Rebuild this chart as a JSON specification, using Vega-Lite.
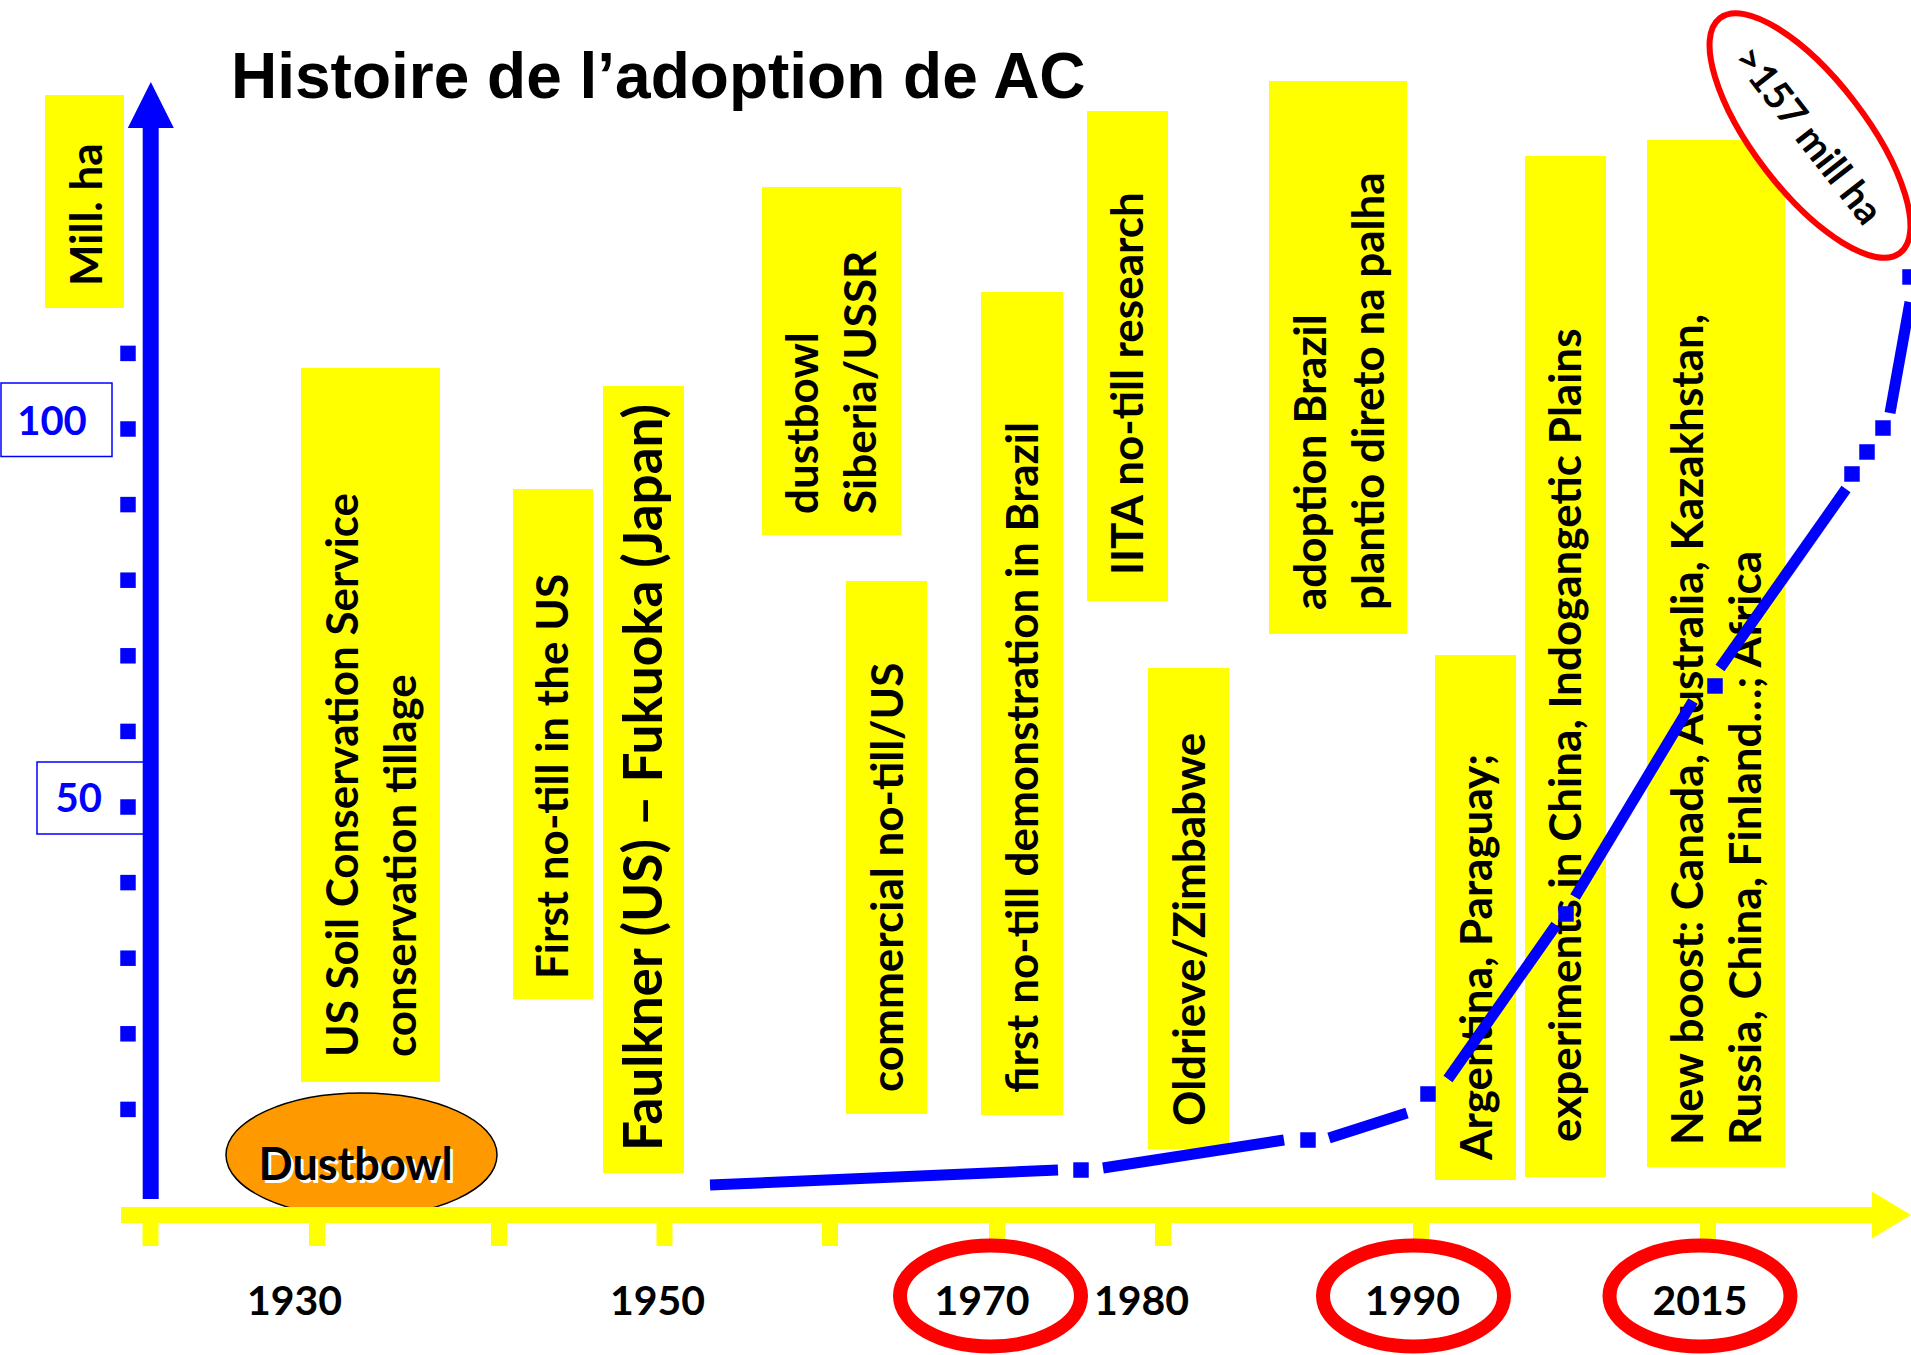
{
  "$schema": "https://vega.github.io/schema/vega-lite/v6.json",
  "width": 1911,
  "height": 1355,
  "padding": 0,
  "autosize": {"type": "none"},
  "background": "white",
  "config": {"view": {"stroke": null}, "axis": {"disable": true}},
  "encoding": {
    "x": {"field": "x", "type": "quantitative", "scale": {"domain": [0, 1911], "nice": false, "zero": false}, "axis": null},
    "y": {"field": "y", "type": "quantitative", "scale": {"domain": [-22.487, 156.746], "nice": false, "zero": false}, "axis": null}
  },
  "datasets": {
    "boxes": [
      {"x": 301, "x2": 440, "y": 108.07, "y2": 13.62},
      {"x": 513, "x2": 593, "y": 92.06, "y2": 24.60},
      {"x": 603, "x2": 684, "y": 105.69, "y2": 1.59},
      {"x": 762, "x2": 901, "y": 132.01, "y2": 85.98},
      {"x": 846, "x2": 927, "y": 79.89, "y2": 9.39},
      {"x": 981, "x2": 1063, "y": 118.12, "y2": 9.26},
      {"x": 1087, "x2": 1168, "y": 142.06, "y2": 77.25},
      {"x": 1148, "x2": 1229, "y": 68.39, "y2": 4.76},
      {"x": 1269, "x2": 1407, "y": 146.03, "y2": 72.88},
      {"x": 1435, "x2": 1516, "y": 70.11, "y2": 0.66},
      {"x": 1525, "x2": 1606, "y": 136.11, "y2": 1.06},
      {"x": 1647, "x2": 1785, "y": 138.23, "y2": 2.38},
      {"x": 45, "x2": 124, "y": 144.18, "y2": 116.01}
    ],
    "events": [
      {"x": 358, "y": 16.93, "label": "US Soil Conservation Service\nconservation tillage"},
      {"x": 568, "y": 27.25, "label": "First no-till in the US"},
      {"x": 818, "y": 88.76, "label": "dustbowl\nSiberia/USSR"},
      {"x": 903, "y": 12.30, "label": "commercial no-till/US"},
      {"x": 1038, "y": 12.17, "label": "first no-till demonstration in Brazil"},
      {"x": 1143, "y": 80.69, "label": "IITA no-till research"},
      {"x": 1205, "y": 7.80, "label": "Oldrieve/Zimbabwe"},
      {"x": 1326, "y": 76.06, "label": "adoption Brazil\nplantio direto na palha"},
      {"x": 1492, "y": 3.31, "label": "Argentina, Paraguay;"},
      {"x": 1581, "y": 5.69, "label": "experiments in China, Indogangetic Plains"},
      {"x": 1703, "y": 5.29, "label": "New boost: Canada, Australia, Kazakhstan,\nRussia, China, Finland…; Africa"},
      {"x": 102, "y": 118.92, "label": "Mill. ha"}
    ],
    "faulkner": [{"x": 662, "y": 4.50, "label": "Faulkner (US) – Fukuoka (Japan)"}],
    "title": [{"x": 231, "y": 143.78, "label": "Histoire de l’adoption de AC"}],
    "axisBoxes": [
      {"x": 1, "x2": 112, "y": 106.08, "y2": 96.36},
      {"x": 37, "x2": 157, "y": 55.95, "y2": 46.43}
    ],
    "axisLabels": [
      {"x": 52, "y": 99.25, "label": "100"},
      {"x": 78.7, "y": 49.34, "label": "50"}
    ],
    "yticks": [
      {"x": 128, "y": 10}, {"x": 128, "y": 20}, {"x": 128, "y": 30}, {"x": 128, "y": 40},
      {"x": 128, "y": 50}, {"x": 128, "y": 60}, {"x": 128, "y": 70}, {"x": 128, "y": 80},
      {"x": 128, "y": 90}, {"x": 128, "y": 100}, {"x": 128, "y": 110}
    ],
    "shaft": [{"x": 150.7, "y": 139.8, "x2": 150.7, "y2": -1.85}],
    "arrowUp": [{"x": 150.8, "y": 142.86}],
    "dustEllipse": [{"x": 361.5, "y": 3.97}],
    "dustText": [{"x": 355.6, "y": 0.66, "label": "Dustbowl"}],
    "bar": [{"x": 121, "y": -3.97, "x2": 1872, "y2": -3.97}],
    "arrowRight": [{"x": 1887.5, "y": -3.97}],
    "xticks": [
      {"x": 150.5, "y": -3.97, "y2": -8.07}, {"x": 317, "y": -3.97, "y2": -8.07},
      {"x": 499, "y": -3.97, "y2": -8.07}, {"x": 664.5, "y": -3.97, "y2": -8.07},
      {"x": 830, "y": -3.97, "y2": -8.07}, {"x": 997, "y": -3.97, "y2": -8.07},
      {"x": 1163, "y": -3.97, "y2": -8.07}, {"x": 1421, "y": -3.97, "y2": -8.07},
      {"x": 1708, "y": -3.97, "y2": -8.07}
    ],
    "segments": [
      {"x": 710, "y": 0, "x2": 1058, "y2": 1.98},
      {"x": 1103, "y": 2.25, "x2": 1284, "y2": 5.95},
      {"x": 1329, "y": 6.22, "x2": 1407, "y2": 9.52},
      {"x": 1448, "y": 14.02, "x2": 1556, "y2": 34.39},
      {"x": 1575, "y": 38.10, "x2": 1693, "y2": 64.02},
      {"x": 1720, "y": 68.39, "x2": 1846, "y2": 92.06},
      {"x": 1890, "y": 102.12, "x2": 1910, "y2": 116.80}
    ],
    "dots": [
      {"x": 1081, "y": 1.98}, {"x": 1308, "y": 5.95}, {"x": 1428, "y": 12.04},
      {"x": 1566, "y": 35.85}, {"x": 1715, "y": 66.01}, {"x": 1852, "y": 94.05},
      {"x": 1867, "y": 96.96}, {"x": 1883, "y": 100.13}, {"x": 1910, "y": 120.11}
    ],
    "yearRings": [{"x": 990.5, "y": -14.68}, {"x": 1413.5, "y": -14.68}, {"x": 1700, "y": -14.68}],
    "years": [
      {"x": 294.5, "y": -17.2, "label": "1930"},
      {"x": 657.5, "y": -17.2, "label": "1950"},
      {"x": 982, "y": -17.2, "label": "1970"},
      {"x": 1141.5, "y": -17.2, "label": "1980"},
      {"x": 1412.5, "y": -17.2, "label": "1990"},
      {"x": 1700, "y": -17.2, "label": "2015"}
    ],
    "bigRing": [{"x": 1810, "y": 138.82}],
    "bigText": [{"x": 1807.5, "y": 138.76, "label": ">157 mill ha"}]
  },
  "layer": [
    {
      "data": {"name": "boxes"},
      "mark": {"type": "rect", "fill": "#FFFF00", "strokeWidth": 0},
      "encoding": {"x2": {"field": "x2"}, "y2": {"field": "y2"}}
    },
    {
      "data": {"name": "events"},
      "mark": {"type": "text", "font": "Lato", "fontWeight": "bold", "fontSize": 44, "angle": 270, "align": "left", "baseline": "alphabetic", "lineBreak": "\n", "lineHeight": 58, "color": "#000000"},
      "encoding": {"text": {"field": "label"}}
    },
    {
      "data": {"name": "faulkner"},
      "mark": {"type": "text", "font": "Lato", "fontWeight": "bold", "fontSize": 53, "angle": 270, "align": "left", "baseline": "alphabetic", "color": "#000000"},
      "encoding": {"text": {"field": "label"}}
    },
    {
      "data": {"name": "title"},
      "mark": {"type": "text", "font": "Liberation Sans", "fontWeight": "bold", "fontSize": 64, "align": "left", "baseline": "alphabetic", "color": "#000000"},
      "encoding": {"text": {"field": "label"}}
    },
    {
      "data": {"name": "axisBoxes"},
      "mark": {"type": "rect", "fill": "#FFFFFF", "stroke": "#0000FF", "strokeWidth": 1.5},
      "encoding": {"x2": {"field": "x2"}, "y2": {"field": "y2"}}
    },
    {
      "data": {"name": "axisLabels"},
      "mark": {"type": "text", "font": "Lato", "fontWeight": "bold", "fontSize": 40, "align": "center", "baseline": "alphabetic", "color": "#0000FF"},
      "encoding": {"text": {"field": "label"}}
    },
    {
      "data": {"name": "yticks"},
      "mark": {"type": "point", "shape": "square", "size": 240, "filled": true, "color": "#0000FF", "opacity": 1, "strokeWidth": 0}
    },
    {
      "data": {"name": "shaft"},
      "mark": {"type": "rule", "color": "#0000FF", "strokeWidth": 16},
      "encoding": {"x2": {"field": "x2"}, "y2": {"field": "y2"}}
    },
    {
      "data": {"name": "arrowUp"},
      "mark": {"type": "point", "shape": "M0,-1L1,1L-1,1Z", "size": 2116, "filled": true, "color": "#0000FF", "opacity": 1, "strokeWidth": 0}
    },
    {
      "data": {"name": "dustEllipse"},
      "mark": {"type": "point", "shape": "M1,0C1,0.2527 0.5523,0.4576 0,0.4576C-0.5523,0.4576 -1,0.2527 -1,0C-1,-0.2527 -0.5523,-0.4576 0,-0.4576C0.5523,-0.4576 1,-0.2527 1,0Z", "size": 73441, "filled": true, "fill": "#FF9900", "stroke": "#000000", "strokeWidth": 1.5, "opacity": 1, "fillOpacity": 1, "strokeOpacity": 1}
    },
    {
      "data": {"name": "dustText"},
      "mark": {"type": "text", "font": "Lato", "fontWeight": "bold", "fontSize": 45, "align": "center", "baseline": "alphabetic", "color": "#FFFFFF", "dx": 3, "dy": 3},
      "encoding": {"text": {"field": "label"}}
    },
    {
      "data": {"name": "dustText"},
      "mark": {"type": "text", "font": "Lato", "fontWeight": "bold", "fontSize": 45, "align": "center", "baseline": "alphabetic", "color": "#000000"},
      "encoding": {"text": {"field": "label"}}
    },
    {
      "data": {"name": "bar"},
      "mark": {"type": "rule", "color": "#FFFF00", "strokeWidth": 16},
      "encoding": {"x2": {"field": "x2"}, "y2": {"field": "y2"}}
    },
    {
      "data": {"name": "arrowRight"},
      "mark": {"type": "point", "shape": "M1,0L-0.66,-1L-0.66,1Z", "size": 2209, "filled": true, "color": "#FFFF00", "opacity": 1, "strokeWidth": 0}
    },
    {
      "data": {"name": "xticks"},
      "mark": {"type": "rule", "color": "#FFFF00", "strokeWidth": 16},
      "encoding": {"y2": {"field": "y2"}}
    },
    {
      "data": {"name": "segments"},
      "mark": {"type": "rule", "color": "#0000FF", "strokeWidth": 11},
      "encoding": {"x2": {"field": "x2"}, "y2": {"field": "y2"}}
    },
    {
      "data": {"name": "dots"},
      "mark": {"type": "point", "shape": "square", "size": 240, "filled": true, "color": "#0000FF", "opacity": 1, "strokeWidth": 0}
    },
    {
      "data": {"name": "yearRings"},
      "mark": {"type": "point", "shape": "M1,0C1,0.3082 0.5523,0.558 0,0.558C-0.5523,0.558 -1,0.3082 -1,0C-1,-0.3082 -0.5523,-0.558 0,-0.558C0.5523,-0.558 1,-0.3082 1,0Z", "size": 32761, "filled": false, "stroke": "#FF0000", "strokeWidth": 14, "opacity": 1, "strokeOpacity": 1}
    },
    {
      "data": {"name": "years"},
      "mark": {"type": "text", "font": "Lato", "fontWeight": "bold", "fontSize": 41, "align": "center", "baseline": "alphabetic", "color": "#000000"},
      "encoding": {"text": {"field": "label"}}
    },
    {
      "data": {"name": "bigRing"},
      "mark": {"type": "point", "shape": "M1,0C1,0.2088 0.5523,0.378 0,0.378C-0.5523,0.378 -1,0.2088 -1,0C-1,-0.2088 -0.5523,-0.378 0,-0.378C0.5523,-0.378 1,-0.2088 1,0Z", "size": 87616, "angle": 52.5, "filled": true, "fill": "#FFFFFF", "stroke": "#FF0000", "strokeWidth": 6, "opacity": 1, "fillOpacity": 1, "strokeOpacity": 1}
    },
    {
      "data": {"name": "bigText"},
      "mark": {"type": "text", "font": "Lato", "fontWeight": "bold", "fontSize": 39, "angle": 52, "align": "center", "baseline": "middle", "color": "#000000"},
      "encoding": {"text": {"field": "label"}}
    }
  ]
}
